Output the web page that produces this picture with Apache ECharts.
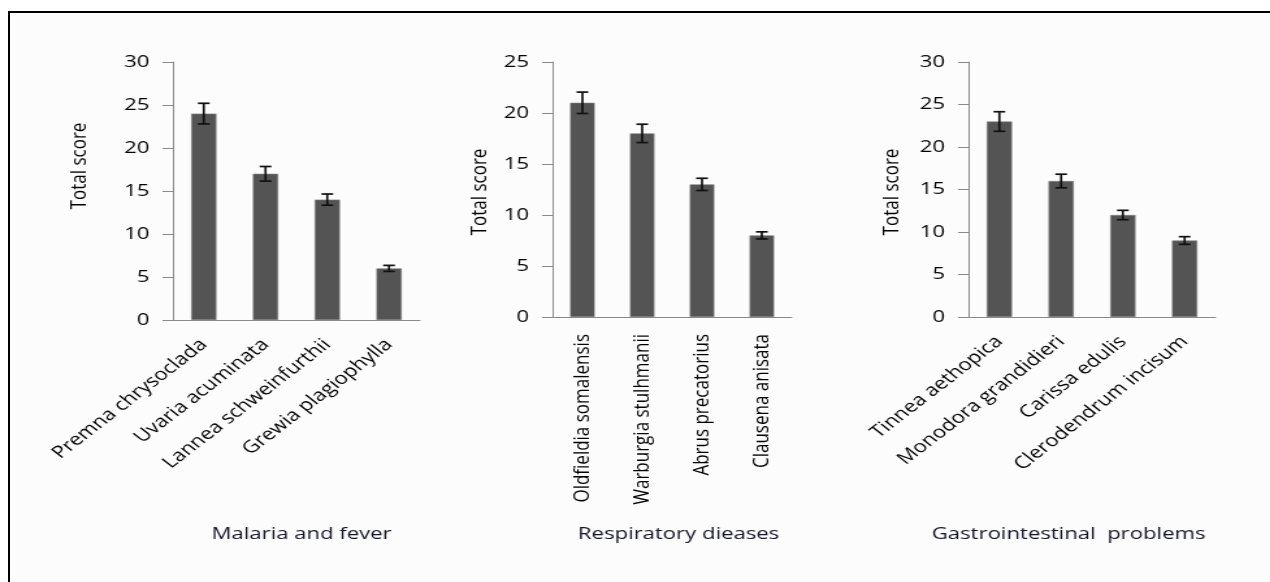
<!DOCTYPE html>
<html>
<head>
<meta charset="utf-8">
<script src="https://cdn.jsdelivr.net/npm/echarts/dist/echarts.min.js"></script>
<style>
  html, body { margin: 0; padding: 0; background: #ffffff; width: 1270px; height: 582px; overflow: hidden; }
  #frame {
    position: absolute; left: 8px; top: 11px; width: 1300px; height: 620px;
    border: 2px solid #000; background: #fcfcfc;
  }
  /* the figure is laid out narrow and widened horizontally */
  #chart {
    position: absolute; left: 0; top: 0; width: 977px; height: 582px;
    transform: scaleX(1.3); transform-origin: 0 0;
  }
</style>
</head>
<body>
<div id="frame"></div>
<div id="chart"></div>
<script>
// Ranking of medicinal plants by use category (total informant score ± error)
const malariaPlants = ['Premna chrysoclada', 'Uvaria acuminata', 'Lannea schweinfurthii', 'Grewia plagiophylla'];
const malariaScores = [24, 17, 14, 6];
const malariaErrors = [1.2, 0.85, 0.65, 0.35];

const respiratoryPlants = ['Oldfieldia somalensis', 'Warburgia stulhmanii', 'Abrus precatorius', 'Clausena anisata'];
const respiratoryScores = [21, 18, 13, 8];
const respiratoryErrors = [1.05, 0.9, 0.6, 0.35];

const gastroPlants = ['Tinnea aethopica', 'Monodora grandidieri', 'Carissa edulis', 'Clerodendrum incisum'];
const gastroScores = [23, 16, 12, 9];
const gastroErrors = [1.15, 0.8, 0.55, 0.45];

const panelTitles = ['Malaria and fever', 'Respiratory dieases', 'Gastrointestinal  problems'];
const yAxisTitle = 'Total score';
const yMaxValues = [30, 25, 30];
const yStep = 5;

const FONT = '"Open Sans", "Liberation Sans", sans-serif';
const TEXT = '#000000';
const AXIS = '#8a8a8a';

const panels = [
  { cats: malariaPlants, vals: malariaScores, errs: malariaErrors, rotate: 45, margin: 22,
    grid: { left: 133, top: 62, width: 190, height: 258 }, titleX: 227, nameX: 61, nameY: 166 },
  { cats: respiratoryPlants, vals: respiratoryScores, errs: respiratoryErrors, rotate: 90, margin: 17,
    grid: { left: 425, top: 62, width: 184, height: 255 }, titleX: 517, nameX: 369, nameY: 192 },
  { cats: gastroPlants, vals: gastroScores, errs: gastroErrors, rotate: 45, margin: 22,
    grid: { left: 745, top: 62, width: 190, height: 255 }, titleX: 817, nameX: 686, nameY: 192 }
];

const chart = echarts.init(document.getElementById('chart'));

const grid = [], xAxis = [], yAxis = [], series = [], title = [], graphic = [];

panels.forEach((p, i) => {
  grid.push(Object.assign({ containLabel: false }, p.grid));
  xAxis.push({
    type: 'category', gridIndex: i, data: p.cats,
    axisLine: { lineStyle: { color: AXIS, width: 1 } },
    axisTick: { show: false },
    axisLabel: { interval: 0, rotate: p.rotate, margin: p.margin, color: TEXT, fontFamily: FONT, fontSize: 17 }
  });
  yAxis.push({
    type: 'value', gridIndex: i, min: 0, max: yMaxValues[i], interval: yStep,
    splitLine: { show: false },
    axisLine: { show: true, lineStyle: { color: AXIS, width: 1 } },
    axisTick: { show: true, length: 8, lineStyle: { color: AXIS } },
    axisLabel: { margin: 18, color: TEXT, fontFamily: FONT, fontSize: 17 }
  });
  series.push({
    type: 'bar', xAxisIndex: i, yAxisIndex: i, data: p.vals, barWidth: '41%',
    itemStyle: { color: '#545454', borderColor: '#7c7c7c', borderWidth: 0.6 },
    silent: true
  });
  series.push({
    type: 'custom', xAxisIndex: i, yAxisIndex: i, silent: true, z: 5,
    data: p.vals.map((v, k) => [k, v - p.errs[k], v + p.errs[k]]),
    renderItem: function (params, api) {
      const lo = api.coord([api.value(0), api.value(1)]);
      const hi = api.coord([api.value(0), api.value(2)]);
      const half = 4.5;
      const st = { stroke: '#111', lineWidth: 1.7, fill: null };
      return {
        type: 'group',
        children: [
          { type: 'line', shape: { x1: hi[0], y1: hi[1], x2: lo[0], y2: lo[1] }, style: st },
          { type: 'line', shape: { x1: hi[0] - half, y1: hi[1], x2: hi[0] + half, y2: hi[1] }, style: st },
          { type: 'line', shape: { x1: lo[0] - half, y1: lo[1], x2: lo[0] + half, y2: lo[1] }, style: st }
        ]
      };
    }
  });
  title.push({
    text: panelTitles[i], left: p.titleX, top: 521, textAlign: 'center',
    textStyle: { fontFamily: FONT, fontSize: 17, fontWeight: 'normal', color: '#14142a' }
  });
  graphic.push({
    type: 'text', x: p.nameX, y: p.nameY, rotation: Math.PI / 2,
    style: { text: yAxisTitle, align: 'center', verticalAlign: 'middle', fontFamily: FONT, fontSize: 17, fill: TEXT }
  });
});

chart.setOption({
  animation: false,
  backgroundColor: 'transparent',
  grid, xAxis, yAxis, series, title, graphic
});
</script>
</body>
</html>
